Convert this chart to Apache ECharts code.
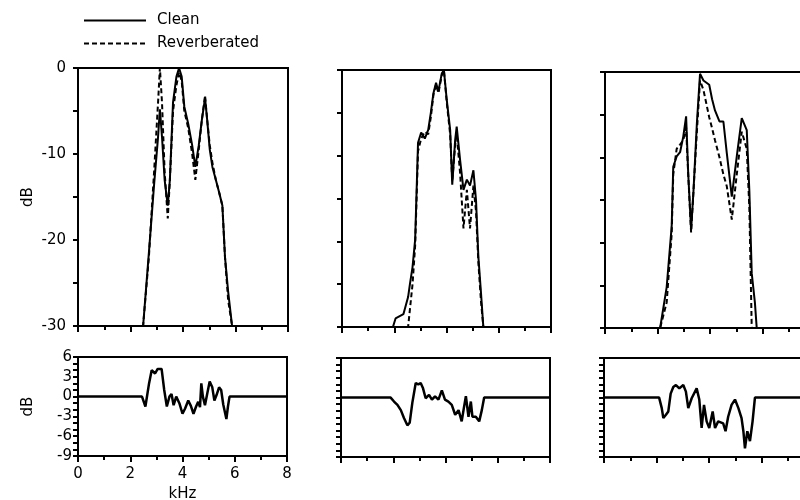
<!DOCTYPE html>
<html>
<head>
<meta charset="utf-8">
<script src="https://cdn.jsdelivr.net/npm/echarts@6/dist/echarts.min.js"></script>
<style>
html, body { margin: 0; padding: 0; background: #fff; }
#chart { width: 800px; height: 500px; }
</style>
</head>
<body>
<div id="chart"></div>
<script>
// spectra, panel 1 (kHz, dB)
var p1Freq   = [0, 2.48, 2.7, 2.9, 3.05, 3.12, 3.2, 3.3, 3.42, 3.5, 3.62, 3.75, 3.85, 3.95, 4.05, 4.2, 4.35, 4.47, 4.6, 4.72, 4.84, 4.92, 5.02, 5.12, 5.25, 5.38, 5.5, 5.6, 5.72, 5.87, 8];
var p1Clean  = [-30, -30, -21.5, -13.5, -8, -4.8, -8, -13, -16, -13, -4, -1, 0, -1, -4.5, -6.5, -9, -11.5, -9, -6, -3.5, -6, -9.5, -11.5, -13, -14.5, -16, -22, -26, -30, -30];
var p1Reverb = [-30, -30, -22, -12, -4, 0, -4, -12, -17.5, -13, -5, -2, -0.5, -1.5, -5, -7, -10, -13, -9.5, -6, -3.2, -6, -9, -11, -13, -14.5, -16, -22, -27, -30, -30];

// spectra, panel 2
var p2Freq   = [0, 1.95, 2.05, 2.35, 2.53, 2.6, 2.7, 2.8, 2.91, 3.03, 3.17, 3.3, 3.4, 3.5, 3.6, 3.69, 3.82, 3.9, 4.01, 4.14, 4.22, 4.33, 4.39, 4.52, 4.65, 4.78, 4.9, 5.03, 5.13, 5.22, 5.32, 5.41, 8];
var p2Clean  = [-30, -30, -29, -28.5, -26.5, -25, -23, -19.8, -8.5, -7.3, -8, -7, -5, -2.7, -1.5, -2.5, -0.4, 0, -3.5, -7, -13.4, -8.2, -6.6, -10.5, -14, -12.8, -13.5, -11.7, -15.2, -21.8, -26, -30, -30];
var p2Reverb = [-30, -30, -30, -30, -30, -30, -25, -20.5, -9.5, -8, -7.2, -7.5, -5.5, -2.9, -1.7, -2.7, -0.6, 0, -3.8, -7.5, -13, -8.8, -7.5, -12, -18.5, -14, -18.5, -13.5, -16.5, -22.5, -27, -30, -30];

// spectra, panel 3
var p3Freq   = [0, 2.1, 2.35, 2.54, 2.6, 2.73, 2.86, 2.98, 3.09, 3.17, 3.28, 3.37, 3.5, 3.62, 3.75, 3.97, 4.08, 4.19, 4.36, 4.51, 4.64, 4.83, 5.02, 5.21, 5.4, 5.5, 5.59, 5.71, 5.78, 8];
var p3Clean  = [-30, -30, -25.2, -18.1, -11.1, -9.9, -9.4, -7.6, -5.2, -11.9, -18.5, -14, -6, -0.2, -1, -1.5, -3.2, -4.5, -5.8, -5.8, -9.5, -14.6, -9.9, -5.4, -6.8, -14, -23.6, -27, -30, -30];
var p3Reverb = [-30, -30, -27, -19, -12, -9, -8.5, -8, -6.5, -12, -18.8, -14, -7, -1, -2.1, -5.3, -6.6, -8, -10, -12, -13.4, -17.3, -12, -7, -9, -16, -30, -30, -30, -30];

// differences (dB)
var d1Freq = [0, 2.45, 2.58, 2.72, 2.82, 2.95, 3.05, 3.2, 3.3, 3.4, 3.5, 3.58, 3.66, 3.76, 3.88, 4.0, 4.1, 4.22, 4.32, 4.42, 4.52, 4.6, 4.67, 4.72, 4.78, 4.86, 4.95, 5.04, 5.14, 5.22, 5.3, 5.4, 5.48, 5.56, 5.62, 5.68, 5.74, 5.8, 8];
var d1Diff = [0, 0, -1.5, 2, 4, 3.5, 4.2, 4.2, 1, -1.5, 0, 0.4, -1.3, 0, -1, -2.6, -1.8, -0.6, -1.4, -2.6, -1.5, -0.8, -1.6, 2, 0, -1.3, 0.5, 2.3, 1.4, -0.6, 0.2, 1.4, 1.0, -1.2, -1.5, -3.4, -1.5, 0, 0];

var d2Freq = [0, 1.9, 2.03, 2.16, 2.29, 2.41, 2.54, 2.63, 2.73, 2.86, 2.96, 3.05, 3.14, 3.24, 3.37, 3.48, 3.6, 3.73, 3.86, 3.98, 4.11, 4.24, 4.37, 4.5, 4.62, 4.71, 4.78, 4.88, 4.97, 5.03, 5.16, 5.29, 5.39, 5.48, 8];
var d2Diff = [0, 0, -0.6, -1.1, -1.9, -3.1, -4.2, -3.8, -0.8, 2.2, 2.0, 2.2, 1.4, -0.1, 0.4, -0.3, 0.2, -0.3, 1.1, -0.3, -0.6, -1.1, -2.6, -1.9, -3.6, -1.4, 0.2, -2.9, -0.6, -2.9, -2.9, -3.6, -1.9, 0, 0];

var d3Freq = [0, 2.1, 2.2, 2.26, 2.36, 2.45, 2.54, 2.64, 2.74, 2.87, 3.02, 3.12, 3.21, 3.34, 3.53, 3.63, 3.72, 3.81, 3.91, 4.01, 4.14, 4.23, 4.35, 4.54, 4.63, 4.73, 4.86, 4.99, 5.12, 5.24, 5.31, 5.37, 5.46, 5.56, 5.66, 5.75, 8];
var d3Diff = [0, 0, -1.6, -3.1, -2.6, -2.1, 0.6, 1.6, 1.9, 1.4, 1.9, 0.9, -1.6, -0.1, 1.4, -0.3, -4.6, -1.1, -3.6, -4.6, -2.1, -4.6, -3.6, -3.9, -5.1, -2.9, -1.1, -0.3, -1.6, -3.1, -5.1, -7.7, -5.1, -6.6, -3.6, 0, 0];

function zip(xs, ys) {
	var out = [];
	for (var i = 0; i < xs.length; i++) {
		out.push([xs[i], ys[i]]);
	}
	return out;
}

var font = 'DejaVu Sans, Liberation Sans, Arial, sans-serif';
// third column runs off the right edge, as in the scan
var grids = [
	{left: 78, top: 68, width: 210, height: 258},
	{left: 342, top: 70, width: 209, height: 257},
	{left: 605, top: 72, width: 210, height: 256},
	{left: 78, top: 357, width: 209, height: 99},
	{left: 341, top: 358, width: 209, height: 99},
	{left: 604, top: 358, width: 210, height: 99}
];
for (var g = 0; g < grids.length; g++) {
	grids[g].show = true;
	grids[g].borderColor = '#000';
	grids[g].borderWidth = 2;
	grids[g].containLabel = false;
	grids[g].outerBoundsMode = 'none';
}

var xAxes = [], yAxes = [];
for (var i = 0; i < 6; i++) {
	var bottomRow = i >= 3;
	xAxes.push({
		type: 'value',
		gridIndex: i,
		position: 'bottom',
		min: 0,
		max: 8,
		interval: 2,
		name: i == 3 ? 'kHz' : '',
		nameLocation: 'middle',
		nameGap: 31,
		nameTextStyle: {fontFamily: font, fontSize: 15, color: '#000'},
		axisLine: {onZero: false, lineStyle: {color: '#000', width: 2}},
		axisTick: {show: true, inside: false, length: 6, lineStyle: {color: '#000', width: 2}},
		minorTick: {show: true, splitNumber: 2, length: 4, lineStyle: {color: '#000', width: 2}},
		axisLabel: {show: i == 3, margin: 11, fontFamily: font, fontSize: 15, color: '#000'},
		splitLine: {show: false}
	});
	yAxes.push({
		type: 'value',
		gridIndex: i,
		position: 'left',
		min: bottomRow ? -9 : -30,
		max: bottomRow ? 6 : 0,
		interval: bottomRow ? 3 : 10,
		name: (i == 0 || i == 3) ? 'dB' : '',
		nameLocation: 'middle',
		nameRotate: 90,
		nameGap: 42,
		nameTextStyle: {fontFamily: font, fontSize: 15, color: '#000'},
		axisLine: {onZero: false, lineStyle: {color: '#000', width: 2}},
		axisTick: {show: true, inside: false, length: 5, lineStyle: {color: '#000', width: 2}},
		minorTick: {show: true, splitNumber: bottomRow ? 3 : 2, length: 5, lineStyle: {color: '#000', width: 2}},
		axisLabel: {show: (i == 0 || i == 3), margin: bottomRow ? 6 : 12, fontFamily: font, fontSize: 15, color: '#000'},
		splitLine: {show: false}
	});
}

function spectrum(name, idx, data, dashed) {
	return {
		name: name,
		type: 'line',
		xAxisIndex: idx,
		yAxisIndex: idx,
		data: data,
		symbol: 'none',
		itemStyle: {color: '#000'},
		lineStyle: {color: '#000', width: 2, type: dashed ? [5, 3] : 'solid'}
	};
}

function diff(idx, data) {
	return {
		type: 'line',
		xAxisIndex: idx,
		yAxisIndex: idx,
		data: data,
		symbol: 'none',
		itemStyle: {color: '#000'},
		lineStyle: {color: '#000', width: 2.5}
	};
}

var option = {
	backgroundColor: '#fff',
	animation: false,
	legend: {
		left: 78,
		top: 8,
		orient: 'vertical',
		itemWidth: 62,
		itemHeight: 14,
		itemGap: 8,
		itemStyle: {opacity: 0},
		data: ['Clean', 'Reverberated'],
		textStyle: {fontFamily: font, fontSize: 15, color: '#000', padding: [0, 0, 0, 6]}
	},
	grid: grids,
	xAxis: xAxes,
	yAxis: yAxes,
	series: [
		spectrum('Clean', 0, zip(p1Freq, p1Clean), false),
		spectrum('Reverberated', 0, zip(p1Freq, p1Reverb), true),
		spectrum('Clean', 1, zip(p2Freq, p2Clean), false),
		spectrum('Reverberated', 1, zip(p2Freq, p2Reverb), true),
		spectrum('Clean', 2, zip(p3Freq, p3Clean), false),
		spectrum('Reverberated', 2, zip(p3Freq, p3Reverb), true),
		diff(3, zip(d1Freq, d1Diff)),
		diff(4, zip(d2Freq, d2Diff)),
		diff(5, zip(d3Freq, d3Diff))
	]
};

var myChart = echarts.init(document.getElementById('chart'));
myChart.setOption(option);
</script>
</body>
</html>
